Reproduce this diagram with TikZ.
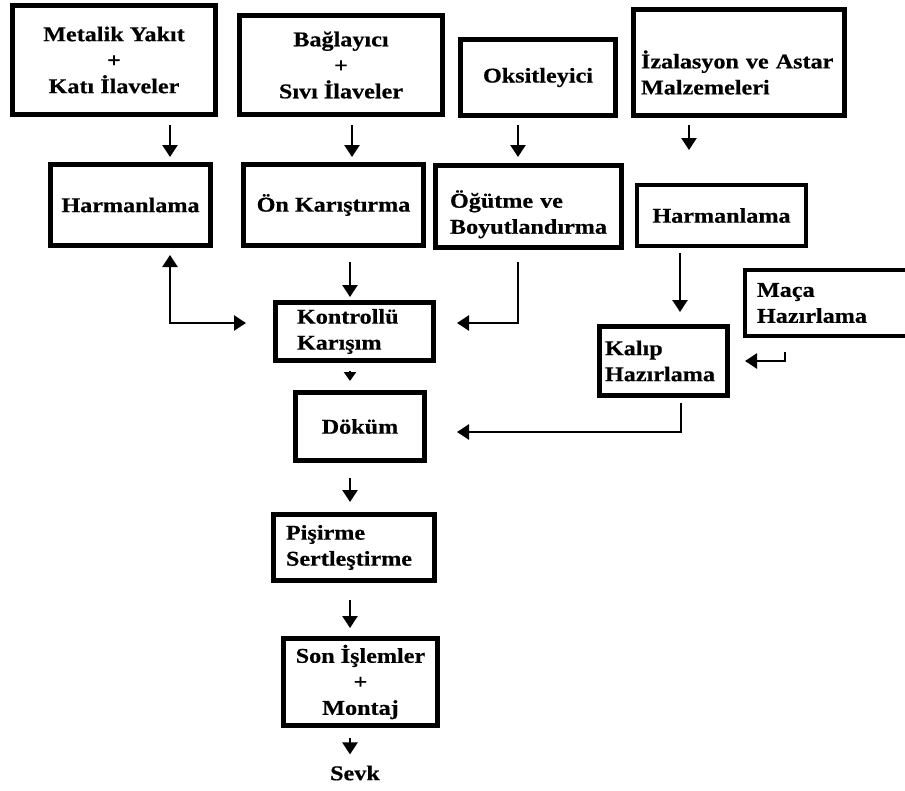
\documentclass[tikz,border=0pt]{standalone}
\usepackage{fontspec}
\newfontfamily\boxfont{Liberation Serif}[FakeStretch=1.15,FakeBold=0.5]
\usetikzlibrary{arrows.meta}
\begin{document}
\begin{tikzpicture}[x=1pt,y=-1pt,
  box/.style={draw, line width=5pt, inner sep=0pt, align=center,
    font=\boxfont\fontsize{21}{26}\selectfont\bfseries},
  lbox/.style={box, align=left},
  lbl/.style={inner sep=0pt, font=\boxfont\fontsize{21}{26}\selectfont\bfseries},
  arr/.style={line width=2.5pt, -{Triangle[length=12pt,width=15pt]}},
  arrboth/.style={line width=2.5pt, {Triangle[length=12pt,width=15pt]}-{Triangle[length=12pt,width=15pt]}},
  tiny/.style={line width=2pt, -{Triangle[length=9pt,width=12pt]}}]
  \fill[white] (0,0) rectangle (905,790);
  \useasboundingbox (0,0) rectangle (905,790);

  % raw materials
  \node[box, minimum width=203pt, minimum height=109pt] (meta) at (114,60)
    {Metalik Yakıt\\+\\Katı İlaveler};
  \node[box, minimum width=203pt, minimum height=99pt] (bag) at (341,65)
    {Bağlayıcı\\+\\Sıvı İlaveler};
  \node[box, minimum width=155pt, minimum height=76pt] (oks) at (538,77.5)
    {Oksitleyici};
  % a tall strut on the first line lowers the text block inside the box
  \node[lbox, inner xsep=7.5pt, text width=196pt, minimum height=106pt] (izo) at (739,62.5)
    {\rule{0pt}{38pt}İzalasyon ve Astar\\Malzemeleri};

  % preparation
  \node[box, minimum width=160pt, minimum height=81pt] (harm1) at (130.5,205) {Harmanlama};
  \node[box, minimum width=180pt, minimum height=81pt] (onk) at (333.5,205) {Ön Karıştırma};
  \node[lbox, inner xsep=14.5pt, text width=157pt, minimum height=82pt] (ogut) at (528.5,206.5)
    {\rule{0pt}{33pt}Öğütme ve\\Boyutlandırma};
  \node[box, line width=4pt, minimum width=169pt, minimum height=61pt] (harm2) at (721.5,215.5) {Harmanlama};

  % mixing and moulding
  \node[lbox, inner xsep=21.5pt, text width=115pt, minimum height=58pt] (kontr) at (354.5,331.5)
    {Kontrollü\\Karışım};
  \node[lbox, line width=4pt, inner xsep=12pt, text width=144pt, minimum height=66pt] (maca) at (829,303)
    {Maça\\Hazırlama};
  \node[lbox, inner xsep=5.5pt, text width=117pt, minimum height=69pt] (kalip) at (663.5,361)
    {Kalıp\\Hazırlama};
  \node[box, minimum width=129pt, minimum height=68pt] (dokum) at (360,426.5) {Döküm};

  % finishing
  \node[lbox, inner xsep=12.5pt, text width=136pt, minimum height=66pt] (pis) at (354,547.5)
    {Pişirme\\Sertleştirme};
  \node[box, minimum width=154pt, minimum height=87pt] (son) at (360.5,682)
    {Son İşlemler\\+\\Montaj};
  \node[lbl] (sevk) at (355,773) {Sevk};

  % connectors
  \draw[arr] ([xshift=56pt,yshift=-8pt]meta.south) -- ([xshift=39.5pt,yshift=5pt]harm1.north);
  \draw[arr] ([xshift=11pt,yshift=-8pt]bag.south) -- ([xshift=18.5pt,yshift=5pt]onk.north);
  \draw[arr] ([xshift=-20pt,yshift=-7pt]oks.south) -- ([xshift=-10.5pt,yshift=6pt]ogut.north);
  \draw[arr] ([xshift=-50pt,yshift=-7pt]izo.south) -- ([xshift=-32.5pt,yshift=33pt]harm2.north);
  \draw[arr] ([xshift=16.5pt,yshift=-14pt]onk.south) -- ([xshift=-4.5pt,yshift=3pt]kontr.north);
  \draw[arrboth] ([xshift=39.5pt,yshift=-7pt]harm1.south) |- ([xshift=-27pt,yshift=8.5pt]kontr.west);
  \draw[arr] ([xshift=-10.5pt,yshift=-12pt]ogut.south) |- ([xshift=21pt,yshift=8.5pt]kontr.east);
  \draw[tiny] ([xshift=-4.5pt,yshift=-8pt]kontr.south) -- ([xshift=-10pt,yshift=9pt]dokum.north);
  \draw[arr] ([xshift=-41.5pt,yshift=-5pt]harm2.south) -- ([xshift=16.5pt,yshift=12pt]kalip.north);
  \draw[arr] ([xshift=-44pt,yshift=-14pt]maca.south) |- ([xshift=15pt]kalip.east);
  \draw[arr] ([xshift=17.5pt,yshift=-5pt]kalip.south) |- ([xshift=30pt,yshift=-5.5pt]dokum.east);
  \draw[arr] ([xshift=-10pt,yshift=-15pt]dokum.south) -- ([xshift=-4pt,yshift=10pt]pis.north);
  \draw[arr] ([xshift=-4pt,yshift=-17pt]pis.south) -- ([xshift=-10.5pt,yshift=8pt]son.north);
  \draw[arr] ([xshift=-10.5pt,yshift=-10pt]son.south) -- ([xshift=-5pt,yshift=11pt]sevk.north);
\end{tikzpicture}
\end{document}
